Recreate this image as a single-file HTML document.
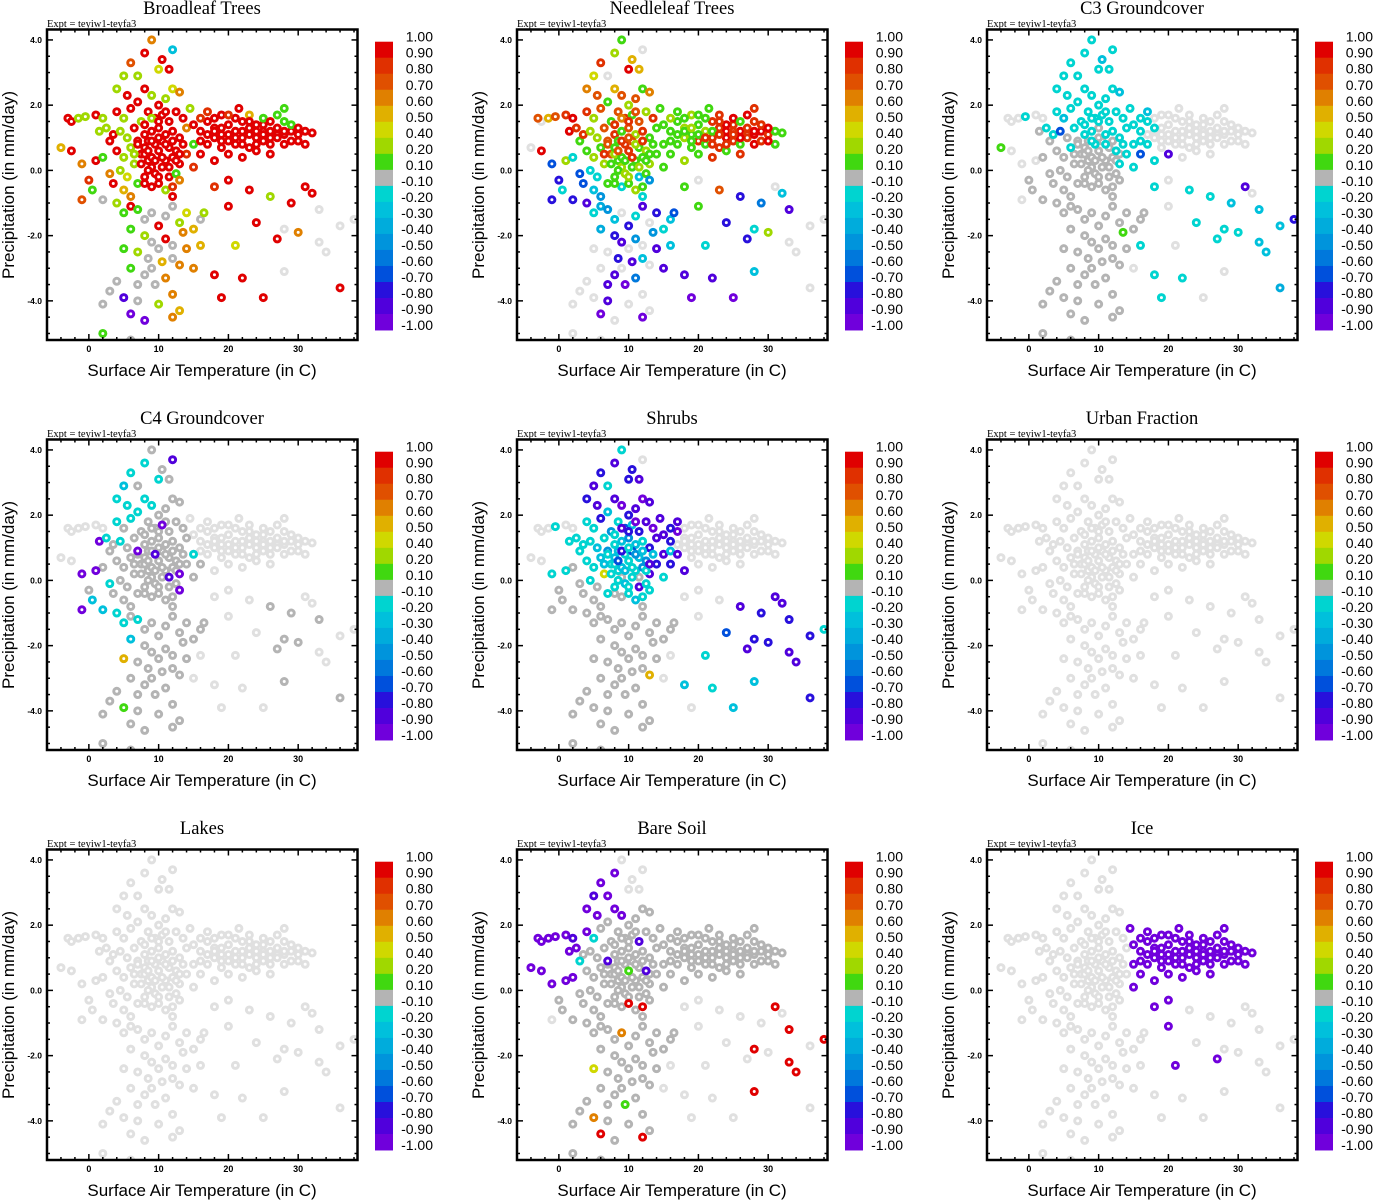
<!DOCTYPE html>
<html><head><meta charset="utf-8"><title>Correlation scatter panels</title>
<style>
html,body{margin:0;padding:0;background:#fff;}
svg{display:block;}
</style></head>
<body>
<svg id="fig" xmlns="http://www.w3.org/2000/svg" width="1373" height="1200" viewBox="0 0 1373 1200"></svg>
<script>
const _ = null;
// shared cloud of (temperature C, precipitation mm/day) points, grouped by region
const cloud = [
// far west (18)
[-3,1.6],[-2.5,1.5],[-1.5,1.6],[-0.5,1.65],[1,1.7],[2,1.6],[-2.5,0.6],[-4,0.7],[-1,0.2],[0,-0.3],[-1,-0.9],[0.5,-0.6],[1,0.3],[1.5,1.2],[2.5,1.3],[3,0.9],[2,0.4],[3,-0.1],
// west (32)
[4,2.5],[5,2.9],[5.5,2.3],[4,1.8],[5,1.6],[6,1.9],[7,2.1],
[3.5,1.1],[4.5,1.2],[5.5,1.0],[6.5,1.3],[7.5,1.5],
[4,0.6],[5,0.4],[6,0.7],[7,0.9],[8,1.1],
[4.5,0],[5.5,-0.2],[6.5,0.2],[7.5,0.5],[8.5,0.3],
[3.5,-0.4],[5,-0.6],[6,-0.8],[7,-0.4],[8,-0.2],[9,0.1],
[2,-0.9],[4,-1.0],[5,-1.3],[6,-1.1],
// central (45)
[8,2.5],[9,2.3],[10,2.0],[11,2.2],[12,2.5],[13,2.4],
[8.5,1.8],[9.5,1.6],[10.5,1.7],[11.5,1.5],[12.5,1.8],[13.5,1.6],
[8,1.4],[9,1.2],[10,1.3],[11,1.1],[12,1.2],[13,1.0],[14,1.3],
[8.5,0.9],[9.5,0.8],[10.5,0.9],[11.5,0.7],[12.5,0.6],[13.5,0.8],
[8,0.5],[9,0.4],[10,0.6],[11,0.3],[12,0.4],[13,0.2],[14,0.5],
[8.5,0],[9.5,-0.1],[10.5,0.1],[11.5,-0.2],[12.5,-0.1],
[9,-0.5],[10,-0.4],[11,-0.6],[12,-0.5],[13,-0.3],
[15,0.1],[15,0.8],[16,0.5],
// top (8)
[6,3.3],[8,3.6],[9,4.0],[10,3.1],[11.5,3.1],[7,2.9],[12,3.7],[10.5,3.4],
// east arm (48)
[15,1.4],[16,1.2],[17,1.5],[18,1.3],[19,1.1],[20,1.4],[21,1.2],[22,1.5],[23,1.3],[24,1.0],[25,1.4],[26,1.2],[27,1.1],[28,1.5],[29,1.2],[30,1.1],[31,1.2],[32,1.15],
[16,0.9],[17,0.8],[18,1.0],[19,0.7],[20,0.9],[21,0.8],[22,1.0],[23,0.7],[24,1.2],[25,0.9],[26,0.8],[27,1.0],[28,0.8],[29,0.9],
[17,1.8],[19,1.7],[21,1.6],[23,1.7],[25,1.6],[27,1.7],[28,1.9],
[20,0.5],[22,0.4],[24,0.6],[26,0.5],[18,0.3],[31,0.8],[21.5,1.9],[14.5,1.9],[16,1.6],
// south tail (44)
[7,-1.2],[8,-1.5],[9,-1.3],[10,-1.7],[11,-1.4],[12,-1.1],[13,-1.6],
[6,-1.8],[8,-2.0],[9,-2.2],[10,-2.4],[11,-2.1],[12,-2.3],
[7,-2.5],[8.5,-2.7],[10.5,-2.8],[12,-2.7],[5,-2.4],
[6,-3.0],[8,-3.2],[9,-3.0],[11,-3.3],[13,-2.9],
[4,-3.4],[7,-3.5],[9.5,-3.5],[12,-3.8],
[3,-3.7],[5,-3.9],[7,-4.0],[10,-4.1],[13,-4.3],
[2,-4.1],[6,-4.4],[8,-4.6],[12,-4.5],
[2,-5.0],[6,-5.2],
[14,-1.3],[15,-1.8],[16,-1.5],[14,-2.4],[13.5,-1.9],[16.5,-1.3],
// south-east scatter (26)
[18,-0.5],[20,-0.3],[23,-0.6],[26,-0.8],[29,-1.0],[31,-0.5],[32,-0.7],
[20,-1.1],[24,-1.6],[28,-1.8],[33,-1.2],[36,-1.7],[38,-1.5],
[16,-2.3],[21,-2.3],[27,-2.1],[33,-2.2],
[15,-3.0],[18,-3.2],[22,-3.3],[28,-3.1],[36,-3.6],
[19,-3.9],[25,-3.9],
[30,-1.9],[34,-2.5]
];
// dense cores: central (20) then east arm (24)
const core = [
[7,0.8],[8,0.7],[9,0.9],[10,1.0],[11,0.8],[12,0.9],[7.5,0.2],[8.5,0.6],[9.5,0.3],[10.5,0.4],[11.5,0.1],[12.5,0.3],[9,1.6],[10,1.5],[11,1.8],[8,-0.4],[10,-0.2],[12,-0.8],[6.5,0.5],[13,0.5],
[17,1.1],[18,1.2],[19,1.3],[20,1.1],[21,1.0],[22,1.2],[23,1.1],[24,1.4],[25,1.2],[26,1.0],[27,1.3],[28,1.1],[29,1.4],[30,1.3],[18,1.6],[20,1.7],[22,0.8],[24,0.8],[26,1.5],[28,1.2],[19,0.9],[23,1.5],[25,1.1],[30,0.9]
];
const titles = ["Broadleaf Trees","Needleleaf Trees","C3 Groundcover","C4 Groundcover","Shrubs","Urban Fraction","Lakes","Bare Soil","Ice"];
const broadleafVals = [
.95,.95,.3,.3,.95,.3,.95,.55,.65,.85,.75,.15,.95,.3,.3,.95,.15,.65,
.3,.3,.95,.95,.3,.95,.95, .95,.3,.3,.95,.3, .95,.3,.3,.95,.95, .3,.45,.3,.95,.95, .95,.55,.65,.15,.95,.95, 0,.3,.15,.95,
.95,.3,.95,.3,.5,.65, .95,.95,.95,.95,.95,.95, .95,.95,.95,.95,.95,.95,.65, .95,.95,.95,.95,.95,.95, .95,.95,.95,.95,.95,.95,.85, .95,.95,.95,.95,.15, .95,.95,.3,.85,.65, .85,.15,.95,
.75,.95,.65,.45,.95,.3,-.2,.95,
.95,.95,.95,.95,.95,.95,.95,.95,.95,.95,.95,.95,.95,.15,.95,.95,.95,.95,
.95,.95,.95,.95,.95,.95,.95,.95,.95,.95,.95,.95,.95,.95,
.85,.95,.95,.55,.15,.15,.15,
.95,.95,.95,.95,.95,.95,.95,.3,.85,
.15,0,0,.95,0,0,.3, .15,.3,0,0,.95,0, .3,0,.55,0,.15, .15,0,0,.65,.65, 0,0,0,.65, 0,-.85,0,.3,.55, 0,-.95,-.95,.65, .15,0, .45,.55,0,.65,.65,.3,
.85,.95,.95,.3,.95,.95,.95, .95,.95,_,_,_,_, .55,.45,.95,_, .65,.95,.95,_,.95, .95,.95, .65,_
];
const broadleafCore = [.95,.95,.95,.95,.95,.95,.95,.95,.95,.95,.95,.95,.3,.95,.95,.95,.95,.95,.3,.95,
.95,.95,.95,.95,.95,.95,.95,.95,.95,.95,.95,.95,.15,.95,.95,.85,.95,.95,.95,.95,.95,.95,.95,.95];
const needleleafVals = [
.75,_,.55,.75,.85,.95,.95,_,-.65,-.75,-.75,-.15,.3,.95,.85,.15,-.15,-.65,
.65,.45,.75,.85,.3,.75,.15, .85,.3,.3,.75,.15, .15,.3,.15,.75,.85, -.15,-.15,.3,.75,.15, -.65,-.25,-.45,.15,.15,.3, -.75,-.85,-.15,-.35,
.55,.75,.3,.75,.15,.65, .75,.85,.15,.75,.3,.85, .85,.15,.75,.3,.85,.15,.15, .15,.85,.75,.15,.3,.15, .3,.15,.85,.15,.15,.3,.15, .15,.3,.15,-.25,.15, -.15,.15,.3,.15,-.45, .15,.15,.15,
.85,.3,.15,.95,.55,_,_,.55,
.15,.15,.15,.3,.15,.15,.3,.85,.85,.95,.85,.95,.85,.85,.95,.85,.15,.15,
.15,.15,.3,.15,.85,.15,.85,.85,.95,.85,.15,.85,.95,.85,
.15,.3,.15,.85,.95,.95,.85,
.15,.85,.15,.85,.3,.15,.15,.15,.3,
-.45,-.25,_,-.75,-.15,-.85,_, -.35,-.75,-.85,_,-.45,_, _,-.75,-.85,-.25,_, _,-.85,_,-.55,_, _,-.85,-.95,_, _,_,-.85,_,_, _,-.95,_,-.95, _,_, -.75,-.15,-.25,-.85,-.45,-.65,
.15,_,.75,-.75,-.55,_,-.25, .15,-.75,-.15,-.85,_,_, -.25,-.15,-.75,_, -.85,-.85,-.85,-.25,_, -.95,-.95, .3,_
];
const needleleafCore = [.75,.15,.85,.75,.3,.85,.15,.75,.15,.85,.3,.15,.65,.85,.75,.15,.3,-.15,.85,.15,
.15,.15,.3,.15,.85,.15,.85,.95,.85,.95,.85,.95,.85,.95,.15,.15,.85,.85,.15,.95,.15,.85,.85,.95];
const c3Vals = [
_,_,_,-.15,_,_,_,.15,_,0,_,0,_,0,-.15,0,0,0,
-.15,-.15,-.15,-.15,-.2,-.15,-.15, -.15,-.65,0,-.15,-.15, 0,0,-.15,0,-.15, 0,0,0,0,0, 0,0,0,0,0,0, 0,0,0,0,
-.15,-.15,-.15,-.15,-.15,-.2, -.15,-.15,-.15,-.15,-.15,-.15, -.15,-.15,0,-.15,-.15,-.15,-.15, 0,-.15,0,0,-.15,-.15, 0,0,0,0,0,-.15,-.15, 0,0,0,0,0, 0,0,0,0,0, -.15,-.15,-.65,
-.15,-.15,-.15,-.15,-.15,-.15,-.15,-.2,
-.15,-.15,-.15,-.15,_,_,_,_,_,_,_,_,_,_,_,_,_,_,
-.15,-.15,_,_,_,_,_,_,_,_,_,_,_,_,
-.2,_,_,_,_,_,_,
-.85,_,_,_,-.15,_,_,-.15,-.15,
0,0,0,0,0,0,0, 0,0,0,0,0,0, 0,0,0,0,0, 0,0,0,0,0, 0,0,0,0, 0,0,0,0,0, 0,0,0,0, 0,0, 0,0,0,0,.15,0,
-.15,_,-.15,-.15,-.2,-.85,_, _,-.15,-.15,-.2,-.2,-.75, -.15,_,-.15,-.2, _,-.15,-.15,_,-.3, -.15,_, -.15,-.2
];
const c3Core = [0,0,-.15,0,-.15,0,0,0,0,0,0,0,-.15,-.15,-.15,0,0,0,0,0,
_,_,_,_,_,_,_,_,_,_,_,_,_,_,_,_,_,_,_,_,_,_,_,_];
const c4Vals = [
_,_,_,_,_,_,_,_,-.95,0,-.95,-.25,-.95,-.95,-.15,0,0,-.15,
-.15,-.2,-.15,-.15,0,-.15,-.15, 0,-.15,0,0,0, 0,0,0,-.95,0, 0,0,0,0,0, 0,0,0,0,0,0, -.2,-.15,-.15,0,
-.15,-.15,0,0,0,0, 0,0,-.95,0,0,0, 0,0,0,0,0,0,0, 0,-.85,0,0,0,0, 0,0,0,0,0,-.95,0, 0,0,0,0,0, 0,0,0,0,-.95, 0,-.15,0,
-.15,-.15,0,-.15,0,0,-.85,0,
_,_,_,_,_,_,_,_,_,_,_,_,_,_,_,_,_,_,
_,_,_,_,_,_,_,_,_,_,_,_,_,_,
_,_,_,_,_,_,_,
_,_,_,_,_,_,_,_,_,
-.15,0,0,0,0,0,0, -.2,0,0,0,0,0, 0,0,0,0,.55, 0,0,0,0,0, 0,0,0,0, 0,.15,0,0,0, 0,0,0,0, 0,0, 0,0,0,0,0,0,
_,_,_,0,0,_,_, _,_,0,0,_,_, _,_,0,_, _,_,_,0,0, _,_, 0,_
];
const c4Core = [0,0,0,0,0,0,0,0,0,0,-.85,0,0,0,0,0,0,0,0,0,
_,_,_,_,_,_,_,_,_,_,_,_,_,_,_,_,_,_,_,_,_,_,_,_];
const shrubVals = [
_,_,_,-.15,_,_,_,_,-.15,0,0,0,-.15,-.15,-.15,-.15,0,0,
-.75,-.85,-.85,-.15,-.15,-.75,-.2, -.15,-.15,-.2,-.15,-.45, -.15,-.15,-.25,-.45,-.15, -.15,0,.45,-.15,-.15, 0,0,0,-.15,-.15,0, 0,0,0,0,
-.85,-.95,-.75,-.85,-.95,-.85, -.15,-.65,-.2,-.75,-.85,-.95, -.15,-.2,-.45,-.2,-.15,-.75,-.85, -.2,-.15,-.65,-.2,-.45,-.25, -.15,-.2,-.15,-.15,-.45,-.85,-.75, -.15,-.2,-.15,-.85,-.15, 0,-.15,-.2,-.15,-.15, -.15,-.85,-.75,
-.75,-.85,-.15,-.75,-.85,-.15,_,-.75,
-.85,-.75,-.95,_,_,_,_,_,_,_,_,_,_,_,_,_,_,_,
-.2,-.85,_,_,_,_,_,_,_,_,_,_,_,_,
-.85,_,_,_,_,_,_,
_,_,_,_,-.85,_,_,-.85,-.75,
0,0,0,0,0,0,0, 0,0,0,0,0,0, 0,0,0,0,0, 0,0,0,0,.55, 0,0,0,0, 0,0,0,0,0, 0,0,0,0, 0,0, 0,0,0,0,0,0,
_,_,_,-.85,-.75,-.85,-.85, _,-.65,-.75,-.75,-.75,-.15, _,-.15,-.85,-.85, _,-.2,-.15,-.2,-.75, _,-.2, -.75,-.85
];
const shrubCore = [-.15,-.2,-.75,-.15,-.45,-.2,-.15,-.65,-.2,-.15,0,-.15,-.85,-.75,-.95,0,-.15,0,-.2,-.85,
_,_,_,_,_,_,_,_,_,_,_,_,_,_,_,_,_,_,_,_,_,_,_,_];
const urbanVals = [];
const lakeVals = [];
const bareSoilVals = [
-.95,-.95,-.95,-.95,-.95,-.85,-.95,-.95,-.95,0,_,0,-.95,-.95,-.95,-.15,-.95,0,
-.95,-.85,-.95,-.95,-.15,0,0, 0,0,0,0,0, 0,0,0,-.85,0, 0,0,0,0,0, 0,0,0,0,0,0, 0,0,0,0,
-.95,-.95,0,0,0,0, 0,0,0,-.85,0,0, 0,0,0,0,0,0,0, 0,0,0,0,-.85,0, 0,0,.15,0,0,0,0, 0,0,0,0,0, 0,.95,0,.95,0, 0,0,0,
-.95,-.95,_,_,_,-.95,_,_,
0,0,0,0,0,0,0,0,0,0,0,0,0,0,0,0,0,0,
0,0,0,0,0,0,0,0,0,0,0,0,0,0,
0,0,0,0,0,0,0,
0,0,0,0,0,0,0,0,0,
0,0,.65,0,0,0,0, 0,0,0,0,0,0, 0,0,0,0,.45, 0,0,0,0,0, 0,0,.15,0, 0,.65,0,0,0, 0,.95,0,.95, 0,0, 0,0,0,0,0,0,
_,_,_,_,_,.95,_, _,_,.95,.95,_,.95, _,_,_,.95, _,_,_,.95,_, _,_, _,.95
];
const bareSoilCore = [0,0,0,0,0,0,0,0,0,0,0,0,0,0,0,0,0,0,0,0,
0,0,0,0,0,0,0,0,0,0,0,0,0,0,0,0,0,0,0,0,0,0,0,0];
const iceVals = [
_,_,_,_,_,_,_,_,_,_,_,_,_,_,_,_,_,_,
_,_,_,_,_,_,_, _,_,_,_,_, _,_,_,_,_, _,_,_,_,_, _,_,_,_,_,_, _,_,_,_,
_,_,_,_,_,_, _,_,_,_,_,_, _,_,_,_,_,_,_, _,_,_,_,_,_, _,_,_,_,_,_,_, _,_,_,_,_, _,_,_,_,_, -.95,-.95,-.95,
_,_,_,_,_,_,_,_,
-.95,-.95,-.95,-.95,-.95,-.95,-.95,-.95,-.95,-.95,-.95,-.95,-.95,-.95,-.95,-.95,-.95,-.95,
-.95,-.95,-.95,-.95,-.95,-.95,-.95,-.95,-.95,-.95,-.95,-.95,-.95,-.95,
-.95,-.95,-.95,-.95,-.95,-.95,-.95,
-.95,-.95,-.95,-.95,-.95,-.95,-.95,-.95,-.95,
_,_,_,_,_,_,_, _,_,_,_,_,_, _,_,_,_,_, _,_,_,_,_, _,_,_,_, _,_,_,_,_, _,_,_,_, _,_, _,_,_,_,_,_,
-.95,-.95,_,_,_,_,_, -.95,_,_,_,_,_, _,-.95,-.95,_, _,_,_,_,_, _,_, _,_
];
const iceCore = [_,_,_,_,_,_,_,_,_,_,_,_,_,_,_,_,_,_,_,_,
-.95,-.95,-.95,-.95,-.95,-.95,-.95,-.95,-.95,-.95,-.95,-.95,-.95,-.95,-.95,-.95,-.95,-.95,-.95,-.95,-.95,-.95,-.95,-.95];
const panelVals = [broadleafVals,needleleafVals,c3Vals,c4Vals,shrubVals,urbanVals,lakeVals,bareSoilVals,iceVals];
const panelCoreVals = [broadleafCore,needleleafCore,c3Core,c4Core,shrubCore,[],[],bareSoilCore,iceCore];
const binEdges = [1,.9,.8,.7,.6,.5,.4,.2,.1,-.1,-.2,-.3,-.4,-.5,-.6,-.7,-.8,-.9,-1];
const binLabels = ["1.00","0.90","0.80","0.70","0.60","0.50","0.40","0.20","0.10","-0.10","-0.20","-0.30","-0.40","-0.50","-0.60","-0.70","-0.80","-0.90","-1.00"];
const binColors = ['#e00000','#e03000','#e05000','#e08000','#e0b000','#d0d800','#a0d800','#40d810','#b4b4b4','#00d4d0','#00c0dc','#00acdc','#0094dc','#0078dc','#0050dc','#2810dc','#5000dc','#7000dc'];
const xTicks = [0,10,20,30];
const yTicks = [4,2,0,-2,-4];

const NS = "http://www.w3.org/2000/svg";
const svg = document.getElementById('fig');
function mk(tag, attrs, parent){ const e=document.createElementNS(NS,tag); for(const k in attrs) e.setAttribute(k,attrs[k]); parent.appendChild(e); return e; }
const PL=47, PR=357.5, PT=29.5, PB=340;
const XMIN=-6, XMAX=38.5, YMIN=-5.2, YMAX=4.32;
const sx = t => PL + (t-XMIN)/(XMAX-XMIN)*(PR-PL);
const sy = p => PB - (p-YMIN)/(YMAX-YMIN)*(PB-PT);
function colorFor(v){
  if(v===null || v===undefined) return '#e0e0e0';
  for(let i=0;i<18;i++){ if(v<=binEdges[i] && v>binEdges[i+1]) return binColors[i]; }
  return v>0 ? binColors[0] : binColors[17];
}
const slug = s => s.toLowerCase().replace(/[^a-z0-9]+/g,'-');

titles.forEach((title, k) => {
  const ox = (k%3)*470, oy = Math.floor(k/3)*410;
  const g = mk('g',{transform:`translate(${ox},${oy})`}, svg);
  
  
  const t = mk('text',{x:202,y:14,'text-anchor':'middle','font-family':'"Liberation Serif",serif','font-size':18.5}, g);
  t.textContent = title;
  
  
  const ex = mk('text',{x:47,y:27,'font-family':'"Liberation Serif",serif','font-size':10.5}, g);
  ex.textContent = 'Expt = teyiw1-teyfa3';
  
  
  const cid = 'clip'+k;
  const cp = mk('clipPath',{id:cid}, g);
  mk('rect',{x:PL,y:PT,width:PR-PL,height:PB-PT}, cp);
  const pg = mk('g',{'clip-path':`url(#${cid})`}, g);
  
  
  const pts = cloud.concat(core);
  const base = panelVals[k].slice();
  while(base.length < cloud.length) base.push(null);
  const vals = base.slice(0, cloud.length).concat(panelCoreVals[k]);
  const order = pts.map((c,i)=>i);
  const rank = i => { const v = vals[i]; if(v===null||v===undefined) return 0; if(Math.abs(v)<0.1) return 1; return 2; };
  order.sort((a,b)=>rank(a)-rank(b));
  order.forEach(i => {
    const v = vals[i];
    const c = mk('circle',{cx:sx(pts[i][0]),cy:sy(pts[i][1]),r:3,fill:'#fff',stroke:colorFor(v),'stroke-width':3}, pg);
    
    
  });
  const tk = mk('g',{stroke:'#000','stroke-width':1.5}, g);
  
  
  for(let x=-6;x<=38;x+=2){ const big = x%10===0; const L=big?6:3;
    mk('line',{x1:sx(x),x2:sx(x),y1:PB,y2:PB-L},tk); mk('line',{x1:sx(x),x2:sx(x),y1:PT,y2:PT+L},tk); }
  for(let y=-5;y<=4;y+=0.5){ const big = Math.abs(y%2)<1e-9; const L=big?6:3;
    mk('line',{x1:PL,x2:PL+L,y1:sy(y),y2:sy(y)},tk); mk('line',{x1:PR,x2:PR-L,y1:sy(y),y2:sy(y)},tk); }
  const fr = mk('rect',{x:PL,y:PT,width:PR-PL,height:PB-PT,fill:'none',stroke:'#000','stroke-width':2.5}, g);
  
  
  xTicks.forEach(v => {
    const e = mk('text',{x:sx(v),y:352,'text-anchor':'middle','font-family':'"Liberation Sans",sans-serif','font-size':9,'font-weight':'bold'}, g);
    e.textContent = v;
    
    
  });
  yTicks.forEach(v => {
    const e = mk('text',{x:42,y:sy(v)+3,'text-anchor':'end','font-family':'"Liberation Sans",sans-serif','font-size':8.5,'font-weight':'bold'}, g);
    e.textContent = v.toFixed(1);
    
    
  });
  const xt = mk('text',{x:202,y:376,'text-anchor':'middle','font-family':'"Liberation Sans",sans-serif','font-size':17}, g);
  xt.textContent = 'Surface Air Temperature (in C)';
  
  
  const yt = mk('text',{x:0,y:0,'text-anchor':'middle','font-family':'"Liberation Sans",sans-serif','font-size':17,transform:'translate(14,185) rotate(-90)'}, g);
  yt.textContent = 'Precipitation (in mm/day)';
  
  
  const cb = mk('g',{}, g);
  
  
  const CT=41.7, CH=16.02;
  binColors.forEach((col,i) => {
    const r = mk('rect',{x:375,y:CT+i*CH,width:18,height:CH+0.4,fill:col}, cb);
    
    
  });
  binLabels.forEach((lab,i) => {
    const e = mk('text',{x:433,y:CT+i*CH,'text-anchor':'end','font-family':'"Liberation Sans",sans-serif','font-size':14}, cb);
    e.textContent = lab;
    
    
  });
});
</script>
</body></html>
